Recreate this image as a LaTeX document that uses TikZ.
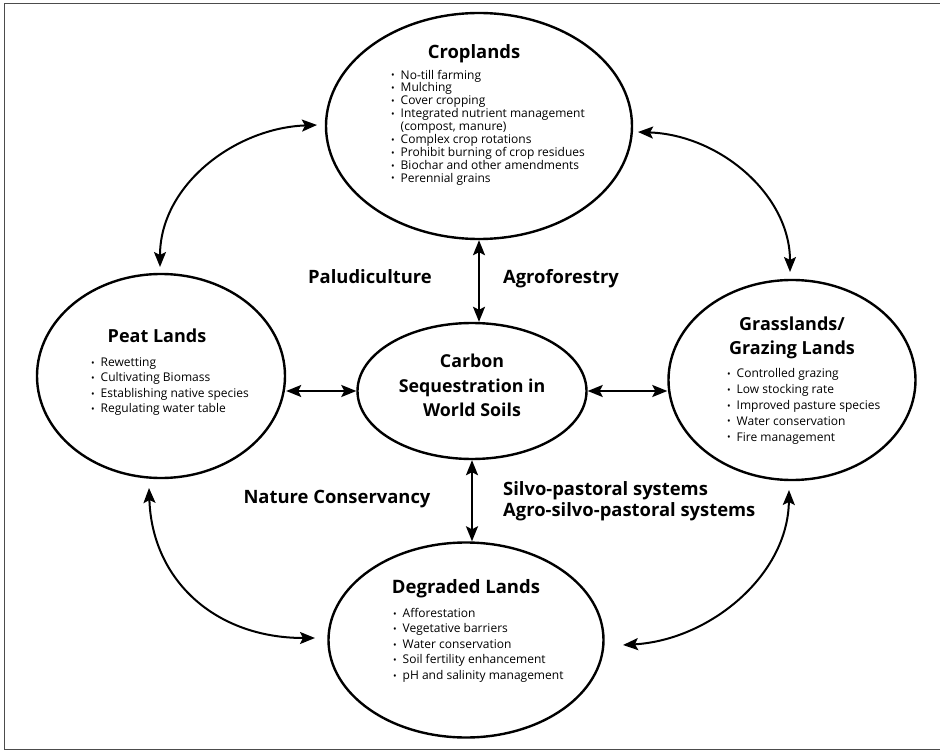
\documentclass[tikz,border=0pt]{standalone}
\usepackage{fontspec}
\setmainfont{Open Sans}
\usetikzlibrary{arrows.meta,shapes.geometric}
\newcommand\bul{\makebox[9.5pt][l]{\raisebox{0.3pt}{\scalebox{0.8}{•}}}}
\newcommand\nob{\hspace*{9.5pt}}
\begin{document}
\begin{tikzpicture}[x=1pt,y=-1pt,
  land/.style={draw, ellipse, line width=2.4pt, inner sep=0pt},
  link/.style={line width=2pt, <->, >={Stealth[length=15pt,width=12pt,inset=3pt]}},
  ttl/.style={font=\bfseries\fontsize{18}{24}\selectfont, align=center, inner sep=0pt, anchor=base},
  lab/.style={font=\bfseries\fontsize{18.4}{21}\selectfont, inner sep=0pt, anchor=base},
  lst/.style={align=left, inner sep=0pt, anchor=base west},
  frame/.style={draw=black!70, line width=1.5pt}
]
\useasboundingbox (0,0) rectangle (940,751);
\draw[frame] (940,3.5) -- (4.5,3.5) -- (4.5,749.5) -- (940,749.5);

% ellipses
\node[land, minimum width=306pt, minimum height=226pt] (crop) at (479,126) {};
\node[land, minimum width=248pt, minimum height=204pt] (peat) at (161,376) {};
\node[land, minimum width=247pt, minimum height=200pt] (grass) at (792,380) {};
\node[land, minimum width=275pt, minimum height=195pt] (deg) at (466,640) {};
\node[land, minimum width=229pt, minimum height=136pt] (center) at (472,391) {};

% titles (base = baseline of last line)
\node[ttl, font=\bfseries\fontsize{18.4}{24}\selectfont] (cropT) at (474,59) {Croplands};
\node[ttl] (peatT) at (157,342.7) {Peat Lands};
\node[ttl] (grassT) at (792,355) {Grasslands/\\Grazing Lands};
\node[ttl, font=\bfseries\fontsize{18.5}{24}\selectfont] (degT) at (466,593.3) {Degraded Lands};
\node[ttl, font=\bfseries\fontsize{17.8}{24.5}\selectfont] (centerT) at (472,416.7) {Carbon\\Sequestration in\\World Soils};

% lists (base = baseline of last line)
\node[lst, font=\fontsize{12}{12.9}\selectfont] (cropL) at (391,182.3) {%
\bul No-till farming\\
\bul Mulching\\
\bul Cover cropping\\
\bul Integrated nutrient management\\
\nob (compost, manure)\\
\bul Complex crop rotations\\
\bul Prohibit burning of crop residues\\
\bul Biochar and other amendments\\
\bul Perennial grains};
\node[lst, font=\fontsize{12}{15.4}\selectfont] (peatL) at (91,412.7) {%
\bul Rewetting\\
\bul Cultivating Biomass\\
\bul Establishing native species\\
\bul Regulating water table};
\node[lst, font=\fontsize{12}{15.8}\selectfont] (grassL) at (727,441) {%
\bul Controlled grazing\\
\bul Low stocking rate\\
\bul Improved pasture species\\
\bul Water conservation\\
\bul Fire management};
\node[lst, font=\fontsize{12}{15.5}\selectfont] (degL) at (393,679.3) {%
\bul Afforestation\\
\bul Vegetative barriers\\
\bul Water conservation\\
\bul Soil fertility enhancement\\
\bul pH and salinity management};

% labels
\node[lab] (palu) at (370,284) {Paludiculture};
\node[lab] (agro) at (561,284) {Agroforestry};
\node[lab] (natc) at (337,503.3) {Nature Conservancy};
\node[lab, align=left, anchor=base west] (silvo) at (503,516) {Silvo-pastoral systems\\Agro-silvo-pastoral systems};

% straight connectors
\draw[link] (crop.south) -- (crop.south |- center.north);
\draw[link] (center.south) -- (center.south |- deg.north);
\draw[link] (center.west) -- (center.west -| peat.east);
\draw[link] (center.east) -- (center.east -| grass.west);

% curved connectors
\coordinate (tl1) at (160,267);
\coordinate (tl2) at (317,125);
\coordinate (tr1) at (638,132);
\coordinate (tr2) at (790,272);
\coordinate (bl1) at (149,488);
\coordinate (bl2) at (315,638);
\coordinate (br1) at (789,490);
\coordinate (br2) at (623,645);
\draw[link] (tl1) .. controls (160,185) and (235,128) .. (tl2);
\draw[link] (tr1) .. controls (720,135) and (790,195) .. (tr2);
\draw[link] (bl1) .. controls (152,580) and (215,638) .. (bl2);
\draw[link] (br1) .. controls (788,575) and (710,640) .. (br2);
\end{tikzpicture}
\end{document}
